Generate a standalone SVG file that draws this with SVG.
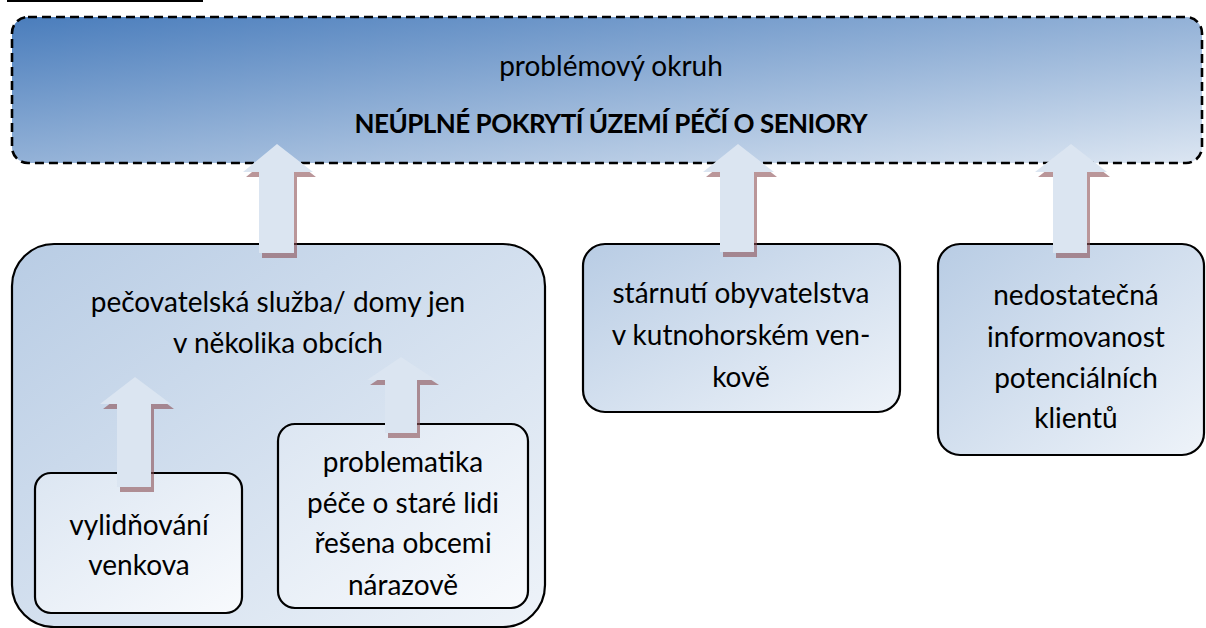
<svg xmlns="http://www.w3.org/2000/svg" width="1206" height="628" viewBox="0 0 1206 628">
<defs>
<linearGradient id="gTop" x1="0" y1="0" x2="1" y2="1">
<stop offset="0" stop-color="#4a7dbc"/>
<stop offset="1" stop-color="#dce6f2"/>
</linearGradient>
<linearGradient id="gMid" x1="0" y1="0" x2="1" y2="1">
<stop offset="0" stop-color="#b8cce4"/>
<stop offset="1" stop-color="#eef3f9"/>
</linearGradient>
<linearGradient id="gLight" x1="0" y1="0" x2="1" y2="1">
<stop offset="0" stop-color="#dce6f2"/>
<stop offset="1" stop-color="#f8fafd"/>
</linearGradient>
<style>
.box{stroke:#000;stroke-width:2.2}
.top{fill:url(#gTop);stroke:#000;stroke-width:2.6;stroke-dasharray:9 5}
.mid{fill:url(#gMid)}
.light{fill:url(#gLight)}
text{font-family:Lato,Carlito,"Liberation Sans",sans-serif;font-size:28px;fill:#000;text-anchor:middle}
.b{font-weight:bold;font-size:26px}
.arrow{fill:#dbe5f1}
.shadow{fill:#8c5055;opacity:0.6}
</style>
</defs>
<rect x="7" y="0" width="196" height="2" fill="#000"/>
<g id="node-top">
<rect class="top" x="12" y="17" width="1190" height="146" rx="16"/>
<text x="611" y="76">problémový okruh</text>
<text class="b" x="611" y="133" textLength="513" lengthAdjust="spacing">NEÚPLNÉ POKRYTÍ ÚZEMÍ PÉČÍ O SENIORY</text>
</g>
<g id="node-pecovatelska">
<rect class="box mid" x="12" y="244" width="533" height="383" rx="42"/>
<text x="278" y="312">pečovatelská služba/ domy jen</text>
<text x="278" y="353">v několika obcích</text>
</g>
<g id="node-vylidnovani">
<rect class="box light" x="35" y="473" width="207" height="140" rx="16"/>
<text x="139" y="535">vylidňování</text>
<text x="139" y="575">venkova</text>
</g>
<g id="node-problematika">
<rect class="box light" x="278" y="424" width="250" height="184" rx="17"/>
<text x="403" y="472">problematika</text>
<text x="403" y="513">péče o staré lidi</text>
<text x="403" y="553">řešena obcemi</text>
<text x="403" y="595">nárazově</text>
</g>
<g id="node-starnuti">
<rect class="box mid" x="583" y="244" width="317" height="168" rx="22"/>
<text x="741" y="303">stárnutí obyvatelstva</text>
<text x="741" y="345">v kutnohorském ven-</text>
<text x="741" y="387">kově</text>
</g>
<g id="node-informovanost">
<rect class="box mid" x="938" y="244" width="266" height="211" rx="22"/>
<text x="1076" y="305">nedostatečná</text>
<text x="1076" y="347">informovanost</text>
<text x="1076" y="388">potenciálních</text>
<text x="1076" y="428">klientů</text>
</g>
<g id="connectors">
<g transform="translate(3,5)" class="shadow">
<path d="M277 144 L313 172 L294 172 L294 253 L259 253 L259 172 L243 172 Z"/>
<path d="M738 144 L774 172 L754 172 L754 252 L720 252 L720 172 L703 172 Z"/>
<path d="M1071 144 L1107 172 L1087 172 L1087 253 L1053 253 L1053 172 L1035 172 Z"/>
<path d="M135 377 L171 404 L151 404 L151 487 L117 487 L117 404 L100 404 Z"/>
<path d="M401 357 L436 380 L417 380 L417 433 L385 433 L385 380 L367 380 Z"/>
</g>
<g class="arrow">
<path d="M277 144 L313 172 L294 172 L294 253 L259 253 L259 172 L243 172 Z"/>
<path d="M738 144 L774 172 L754 172 L754 252 L720 252 L720 172 L703 172 Z"/>
<path d="M1071 144 L1107 172 L1087 172 L1087 253 L1053 253 L1053 172 L1035 172 Z"/>
<path d="M135 377 L171 404 L151 404 L151 487 L117 487 L117 404 L100 404 Z"/>
<path d="M401 357 L436 380 L417 380 L417 433 L385 433 L385 380 L367 380 Z"/>
</g>
</g>
</svg>
